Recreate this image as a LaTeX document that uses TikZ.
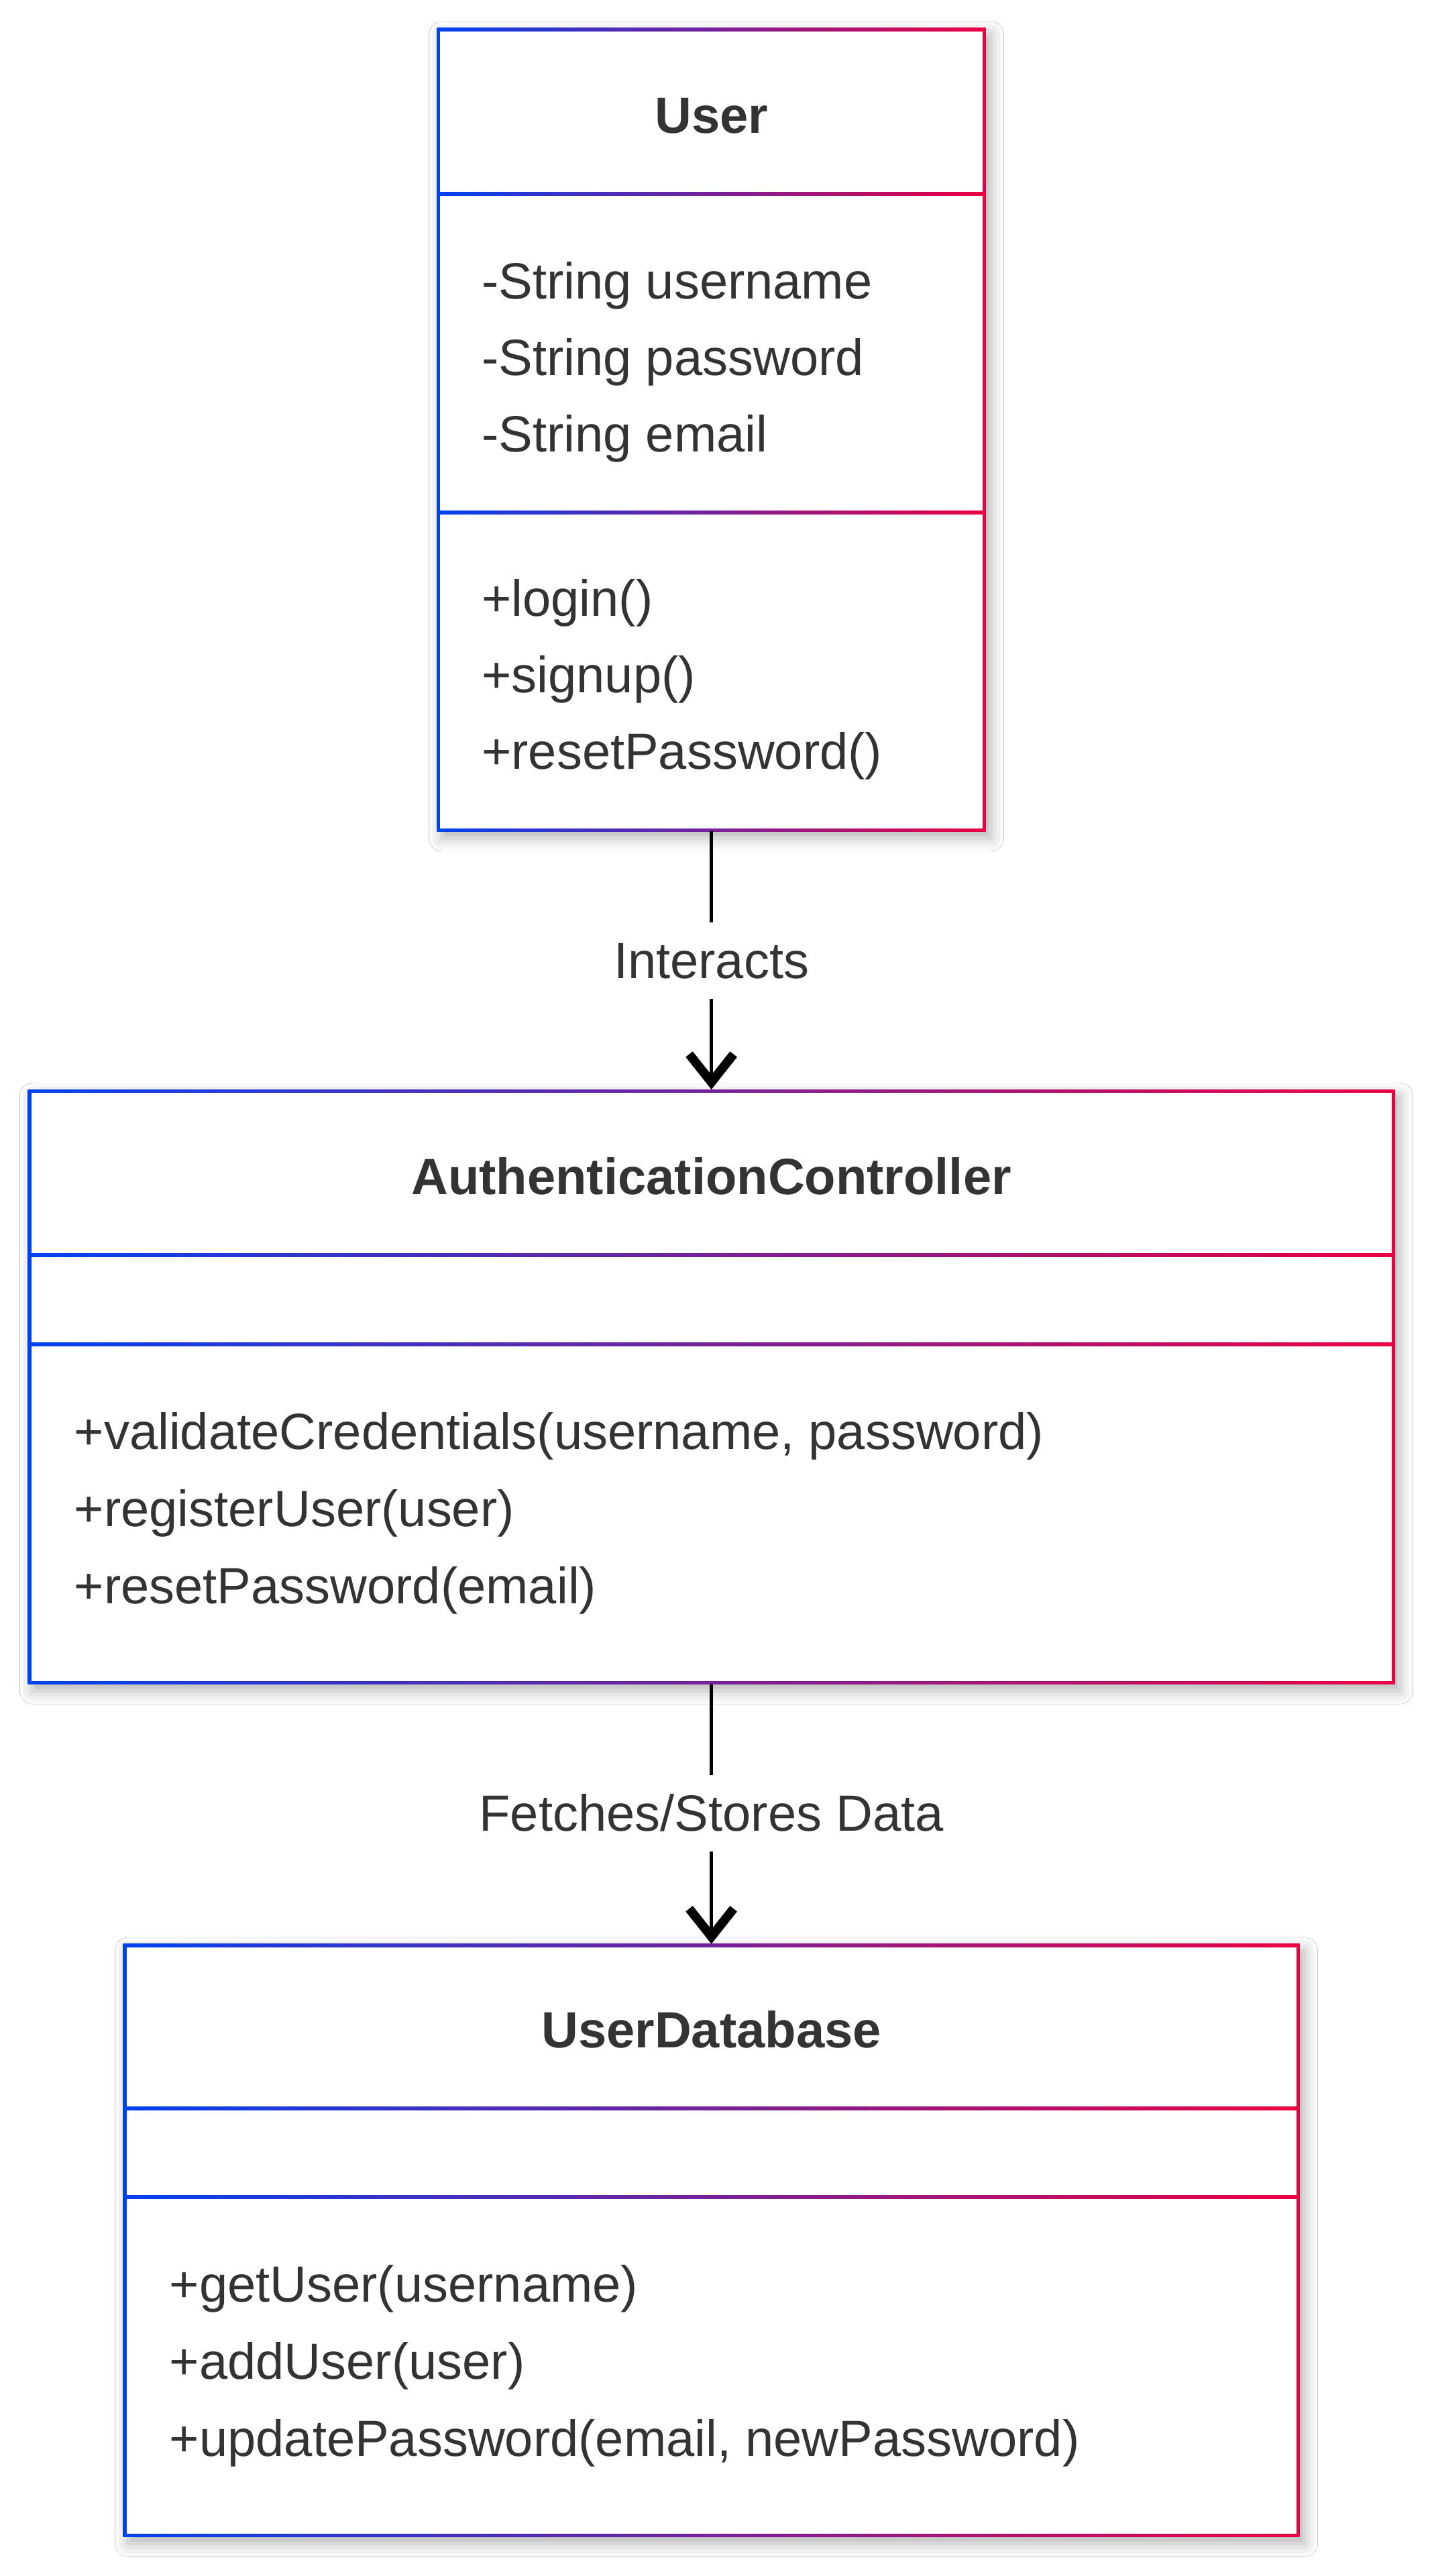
\documentclass[tikz,border=0pt]{standalone}
\usepackage{fontspec}
\setmainfont{Liberation Sans}
\usetikzlibrary{arrows.meta,shadows.blur}
\definecolor{cblue}{RGB}{0,66,240}
\definecolor{cred}{RGB}{236,0,66}
\definecolor{ink}{HTML}{333333}

\tikzset{
	classbox/.style={inner sep=0pt, outer sep=0pt, left color=cblue, right color=cred,
		blur shadow={shadow xshift=3pt, shadow yshift=-4pt, shadow blur radius=8pt, shadow opacity=30},
		path picture={\fill[white] ([shift={(2pt,-2pt)}]path picture bounding box.north west) rectangle ([shift={(-2pt,2pt)}]path picture bounding box.south east);}},
	bar/.style={left color=cblue, right color=cred},
	title/.style={anchor=base, inner sep=0pt, text=ink, font=\fontsize{31}{37}\selectfont\bfseries},
	member/.style={anchor=base west, inner sep=0pt, text=ink, font=\fontsize{31}{37}\selectfont},
	rel/.style={draw=black, line width=2pt},
	lbl/.style={fill=white, text=ink, font=\fontsize{31}{37}\selectfont, inner sep=0pt,
		text height=22pt, text depth=0pt, minimum height=46pt},
	tip/.style={-{Straight Barb[length=17pt, width=27pt, line width=5.5pt]}},
}

\begin{document}
\begin{tikzpicture}[x=1pt, y=-1pt]
			\fill[white] (0,0) rectangle (870,1567.7);
			\useasboundingbox (0,0) rectangle (870,1567.7);
			%%%%%%%%%%%%%%%%%%%%%%%%%%%%%%%%
			\node[classbox, minimum width=334pt, minimum height=489pt] (user) at (433,261.5) {};
			\shade[bar] (266,117) rectangle (600,119);
			\shade[bar] (266,311) rectangle (600,313);
			\node[title] (usertitle) at (433,81) {User};
			\node[member] (u1) at (293,182) {-String username};
			\node[member] (u2) at (293,228.5) {-String password};
			\node[member] (u3) at (293,275) {-String email};
			\node[member] (u4) at (293,375) {+login()};
			\node[member] (u5) at (293,421.5) {+signup()};
			\node[member] (u6) at (293,468) {+resetPassword()};
			%%%%%%%%%%%%%%%%%%%%%%%%%%%%%%%%
			\node[classbox, minimum width=832pt, minimum height=362pt] (auth) at (433,844) {};
			\shade[bar] (17,763) rectangle (849,765);
			\shade[bar] (17,817) rectangle (849,819);
			\node[title] (authtitle) at (433,727) {AuthenticationController};
			\node[member] (a1) at (45,882) {+validateCredentials(username, password)};
			\node[member] (a2) at (45,929) {+registerUser(user)};
			\node[member] (a3) at (45,976) {+resetPassword(email)};
			%%%%%%%%%%%%%%%%%%%%%%%%%%%%%%%%
			\node[classbox, minimum width=716pt, minimum height=361pt] (db) at (433,1363.5) {};
			\shade[bar] (75,1282) rectangle (791,1284);
			\shade[bar] (75,1336) rectangle (791,1338);
			\node[title] (dbtitle) at (433,1246) {UserDatabase};
			\node[member] (d1) at (103,1401) {+getUser(username)};
			\node[member] (d2) at (103,1448) {+addUser(user)};
			\node[member] (d3) at (103,1495) {+updatePassword(email, newPassword)};
			%%%%%%%%%%%%%%%%%%%%%%%%%%%%%%%%
			\node[lbl] (interacts) at (433,584.5) {Interacts};
			\node[lbl] (fetches) at (433,1103.5) {Fetches/Stores Data};
			\draw[rel] (user) -- (interacts);
			\draw[rel, tip] (interacts) -- (auth);
			\draw[rel] (auth) -- (fetches);
			\draw[rel, tip] (fetches) -- (db);
		\end{tikzpicture}
\end{document}
